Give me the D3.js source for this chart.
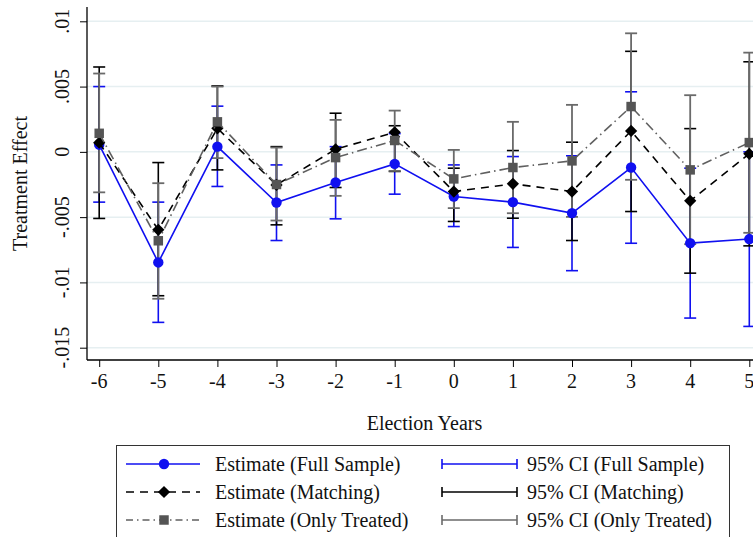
<!DOCTYPE html>
<html>
<head>
<meta charset="utf-8">
<script src="https://cdn.jsdelivr.net/npm/d3@7"></script>
<style>
  html, body { margin: 0; padding: 0; background: #fff; }
  svg { display: block; }
  text { font-family: "Liberation Serif", "Times New Roman", serif; fill: #111; }
</style>
</head>
<body>
<svg id="chart" width="753" height="537"></svg>
<script>
// ---- data ----
const years = [-6, -5, -4, -3, -2, -1, 0, 1, 2, 3, 4, 5];
const yTicks = [0.01, 0.005, 0, -0.005, -0.01, -0.015];
const yTickLabels = [".01", ".005", "0", "-.005", "-.01", "-.015"];

const estFull     = [0.00055, -0.00847, 0.0004, -0.00388, -0.00235, -0.00092, -0.00342, -0.00385, -0.00469, -0.0012, -0.00699, -0.00668];
const ciFullLo    = [-0.00385, -0.01306, -0.00265, -0.00679, -0.00513, -0.00324, -0.00572, -0.00732, -0.0091, -0.0070, -0.01273, -0.01337];
const ciFullHi    = [0.0050, -0.00385, 0.0035, -0.0010, 0.0004, 0.0014, -0.0010, -0.00036, -0.0003, 0.0046, -0.00125, 0.0000];

const estMatch    = [0.0007, -0.00597, 0.0018, -0.00253, 0.0002, 0.00150, -0.00304, -0.00245, -0.00304, 0.0016, -0.00375, -0.00015];
const ciMatchLo   = [-0.0051, -0.01102, -0.00138, -0.00559, -0.00273, -0.0015, -0.00533, -0.00508, -0.00679, -0.00457, -0.00929, -0.0072];
const ciMatchHi   = [0.0065, -0.00082, 0.00505, 0.0004, 0.00296, 0.0020, -0.00125, 0.0001, 0.00074, 0.0077, 0.00178, 0.0069];

const estTreated  = [0.00142, -0.00681, 0.0023, -0.0025, -0.00044, 0.00087, -0.00207, -0.0012, -0.00069, 0.00347, -0.00138, 0.00071];
const ciTreatLo   = [-0.0031, -0.01125, -0.00048, -0.00526, -0.00337, -0.00146, -0.00431, -0.0047, -0.00498, -0.00214, -0.00707, -0.0062];
const ciTreatHi   = [0.0060, -0.0024, 0.0050, 0.00033, 0.00245, 0.00316, 0.00015, 0.0023, 0.0036, 0.00908, 0.00434, 0.0076];

const legendLabels = ["Estimate (Full Sample)", "Estimate (Matching)", "Estimate (Only Treated)",
                      "95% CI (Full Sample)", "95% CI (Matching)", "95% CI (Only Treated)"];

// ---- layout ----
const FS = 20;
const svg = d3.select("#chart");
const plotLeft = 87, plotBottom = 360, plotRight = 760;
const x = d3.scaleLinear().domain([-6, 5]).range([99.2, 749.3]);
const y = d3.scaleLinear().domain([-0.015, 0.01]).range([347.7, 21.3]);

const BLUE = "#1010f0", BLACK = "#000000", GRAY_M = "#555555", GRAY_L = "#606060", GRAY_CI = "#6a6a6a";

// gridlines
svg.append("g").selectAll("line").data(yTicks).join("line")
  .attr("x1", plotLeft).attr("x2", plotRight)
  .attr("y1", d => y(d)).attr("y2", d => y(d))
  .attr("stroke", "#e6eff1").attr("stroke-width", 1.5);

// Y axis
const yAxis = d3.axisLeft(y).tickValues(yTicks).tickSize(7).tickFormat("");
const gy = svg.append("g").attr("transform", `translate(${plotLeft},0)`).call(yAxis);
gy.select(".domain").attr("d", `M0,${plotBottom}V7`).attr("stroke", "#000").attr("stroke-width", 1.3);
gy.selectAll(".tick line").attr("stroke", "#000").attr("stroke-width", 1);
svg.append("g").selectAll("text").data(yTicks).join("text")
  .attr("transform", (d) => `translate(69,${y(d)}) rotate(-90)`)
  .attr("text-anchor", "middle").attr("font-size", FS)
  .text((d, i) => yTickLabels[i]);

// X axis
const xAxis = d3.axisBottom(x).tickValues(years).tickSize(7).tickFormat("");
const gx = svg.append("g").attr("transform", `translate(0,${plotBottom})`).call(xAxis);
gx.select(".domain").attr("d", `M${plotLeft},0H${plotRight}`).attr("stroke", "#000").attr("stroke-width", 1.3);
gx.selectAll(".tick line").attr("stroke", "#000").attr("stroke-width", 1);
svg.append("g").selectAll("text").data(years).join("text")
  .attr("x", d => x(d)).attr("y", 387.5)
  .attr("text-anchor", "middle").attr("font-size", FS)
  .text(d => d < 0 ? "-" + Math.abs(d) : String(d));

// axis titles
svg.append("text").attr("transform", "translate(27,183.5) rotate(-90)")
  .attr("text-anchor", "middle").attr("font-size", FS).text("Treatment Effect");
svg.append("text").attr("x", 424.5).attr("y", 429.5)
  .attr("text-anchor", "middle").attr("font-size", FS).text("Election Years");

// CIs
function drawCI(lo, hi, color, w) {
  const g = svg.append("g");
  years.forEach((yr, i) => {
    const cx = x(yr);
    g.append("line").attr("x1", cx).attr("x2", cx).attr("y1", y(lo[i])).attr("y2", y(hi[i]))
      .attr("stroke", color).attr("stroke-width", w);
    [lo[i], hi[i]].forEach(v => {
      g.append("line").attr("x1", cx - 6).attr("x2", cx + 6).attr("y1", y(v)).attr("y2", y(v))
        .attr("stroke", color).attr("stroke-width", w);
    });
  });
}
drawCI(ciFullLo, ciFullHi, BLUE, 1.6);
drawCI(ciMatchLo, ciMatchHi, BLACK, 1.6);
drawCI(ciTreatLo, ciTreatHi, GRAY_CI, 1.8);

// estimate lines + markers
const line = d3.line().x((d, i) => x(years[i])).y(d => y(d));
function drawEst(vals, color, dash, markerColor, shape) {
  svg.append("path").datum(vals).attr("d", line).attr("fill", "none")
    .attr("stroke", color).attr("stroke-width", 1.6).attr("stroke-dasharray", dash);
  const sym = d3.symbol().type(shape.type).size(shape.size);
  svg.append("g").selectAll("path").data(vals).join("path")
    .attr("transform", (d, i) => `translate(${x(years[i])},${y(d)})${shape.rot || ""}`)
    .attr("d", sym).attr("fill", markerColor);
}
const circleShape = { type: d3.symbolCircle, size: 85 };
const diamondShape = { type: d3.symbolSquare, size: 75, rot: " rotate(45)" };
const squareShape = { type: d3.symbolSquare, size: 90 };
drawEst(estFull, BLUE, null, BLUE, circleShape);
drawEst(estMatch, BLACK, "8,6", BLACK, diamondShape);
drawEst(estTreated, GRAY_L, "10,4,1.5,4", GRAY_M, squareShape);

// legend
const lg = svg.append("g");
lg.append("rect").attr("x", 116.5).attr("y", 445.5).attr("width", 613).attr("height", 120)
  .attr("fill", "#fff").attr("stroke", "#333").attr("stroke-width", 1);
const rowsY = [464, 492, 520];
const estStyles = [
  { color: BLUE, dash: null, mcolor: BLUE, shape: circleShape },
  { color: BLACK, dash: "8,6", mcolor: BLACK, shape: diamondShape },
  { color: GRAY_L, dash: "7,4,1.5,4", mcolor: GRAY_M, shape: squareShape }
];
estStyles.forEach((s, i) => {
  const yy = rowsY[i];
  lg.append("line").attr("x1", 126).attr("x2", 200).attr("y1", yy).attr("y2", yy)
    .attr("stroke", s.color).attr("stroke-width", 1.6).attr("stroke-dasharray", s.dash);
  lg.append("path").attr("transform", `translate(164,${yy})${s.shape.rot || ""}`)
    .attr("d", d3.symbol().type(s.shape.type).size(s.shape.size)).attr("fill", s.mcolor);
  lg.append("text").attr("x", 215).attr("y", yy + 7).attr("font-size", FS).text(legendLabels[i]);
});
const ciColors = [BLUE, BLACK, GRAY_CI];
ciColors.forEach((c, i) => {
  const yy = rowsY[i];
  lg.append("line").attr("x1", 442).attr("x2", 517).attr("y1", yy).attr("y2", yy)
    .attr("stroke", c).attr("stroke-width", 1.6);
  [442, 517].forEach(xx => lg.append("line").attr("x1", xx).attr("x2", xx)
    .attr("y1", yy - 5).attr("y2", yy + 5).attr("stroke", c).attr("stroke-width", 1.6));
  lg.append("text").attr("x", 527).attr("y", yy + 7).attr("font-size", FS).text(legendLabels[3 + i]);
});
</script>
</body>
</html>
